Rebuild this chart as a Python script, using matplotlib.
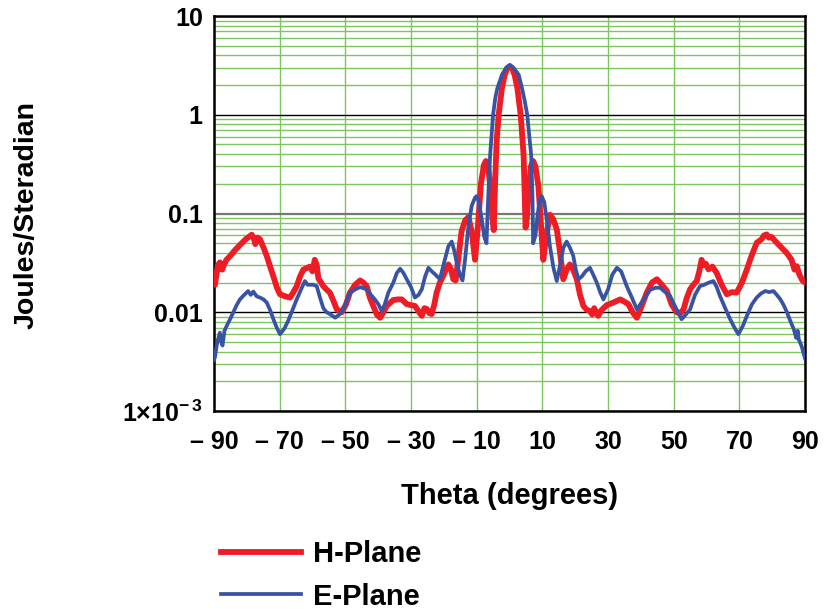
import matplotlib

matplotlib.use("Agg")

import matplotlib.pyplot as plt
from matplotlib.ticker import FixedLocator, LogLocator, NullFormatter

# H-plane radiation pattern (theta in degrees, intensity in J/sr)
theta_h = [
    -90.0, -89.7, -88.8, -88.2, -87.5, -87.0, -86.2, -85.1, -83.5, -82.1,
    -80.3, -78.5, -77.8, -77.4, -76.8, -76.0, -74.9, -73.9, -72.9, -71.9,
    -70.9, -69.9, -68.3, -66.8, -65.8, -64.8, -63.8, -62.8, -61.8, -60.8,
    -60.0, -59.3, -58.7, -58.2, -57.4, -56.7, -55.7, -54.7, -53.6, -52.6,
    -51.1, -49.8, -48.6, -47.0, -45.5, -44.5, -43.5, -42.5, -41.5, -40.4,
    -39.4, -38.4, -37.4, -35.4, -34.0, -32.8, -31.3, -30.0, -28.8, -27.5,
    -26.7, -25.9, -25.2, -24.4, -23.7, -22.9, -22.2, -21.2, -20.2, -19.2,
    -18.6, -17.8, -17.1, -16.4, -15.6, -14.6, -13.5, -12.5, -11.5, -10.5,
    -9.6, -8.7, -7.8, -7.2, -6.5, -5.8, -5.2, -4.8, -4.4, -3.9,
    -3.3, -2.3, -1.5, -0.7, 0.1, 0.9, 1.6, 2.4, 3.4, 3.9,
    4.3, 4.7, 4.9, 5.3, 5.9, 6.5, 7.2, 7.9, 8.8, 9.6,
    10.3, 11.2, 12.3, 13.3, 14.4, 15.2, 16.4, 17.4, 18.4, 19.4,
    20.5, 21.5, 22.5, 23.5, 24.5, 25.2, 25.8, 27.0, 28.0, 29.6,
    31.5, 33.7, 35.0, 36.2, 37.5, 38.8, 40.0, 41.8, 43.4, 44.9,
    46.4, 47.9, 49.4, 50.9, 52.0, 53.0, 54.0, 55.0, 56.0, 57.0,
    57.8, 58.5, 59.2, 59.8, 60.6, 61.8, 63.1, 64.6, 66.2, 67.7,
    69.2, 70.8, 72.3, 73.8, 75.3, 76.8, 77.5, 78.3, 79.0, 79.8,
    81.4, 82.9, 84.4, 85.9, 86.8, 87.5, 88.3, 89.2, 90.0,
]
h_plane = [
    0.020, 0.019, 0.030, 0.032, 0.027, 0.030, 0.034, 0.037, 0.043, 0.048,
    0.055, 0.061, 0.055, 0.049, 0.057, 0.055, 0.045, 0.037, 0.029, 0.023,
    0.018, 0.0152, 0.0145, 0.0141, 0.016, 0.0184, 0.023, 0.027, 0.028, 0.029,
    0.026, 0.034, 0.030, 0.022, 0.020, 0.0184, 0.017, 0.0158, 0.013, 0.0107,
    0.0100, 0.012, 0.0158, 0.019, 0.021, 0.020, 0.0184, 0.014, 0.0116, 0.0095,
    0.0088, 0.010, 0.0116, 0.0133, 0.0135, 0.0135, 0.0121, 0.0118, 0.0116, 0.0100,
    0.0092, 0.0110, 0.0108, 0.0098, 0.0096, 0.012, 0.0158, 0.020, 0.0233, 0.028,
    0.0305, 0.027, 0.0216, 0.021, 0.035, 0.066, 0.085, 0.092, 0.065, 0.034,
    0.075, 0.20, 0.31, 0.34, 0.30, 0.18, 0.09, 0.068, 0.20, 0.55,
    1.0, 1.86, 2.5, 2.95, 3.1, 2.9, 2.5, 1.86, 1.0, 0.6,
    0.39, 0.12, 0.072, 0.09, 0.18, 0.30, 0.34, 0.30, 0.19, 0.075,
    0.034, 0.060, 0.097, 0.088, 0.069, 0.045, 0.0216, 0.027, 0.0305, 0.027,
    0.0216, 0.015, 0.0116, 0.0106, 0.0103, 0.0095, 0.0110, 0.0092, 0.0105, 0.0118,
    0.0125, 0.0135, 0.0128, 0.0121, 0.010, 0.0088, 0.011, 0.0158, 0.020, 0.0216,
    0.019, 0.0165, 0.012, 0.0100, 0.0098, 0.0107, 0.014, 0.0171, 0.019, 0.0207,
    0.026, 0.034, 0.030, 0.031, 0.0272, 0.029, 0.025, 0.019, 0.0152, 0.016,
    0.0158, 0.020, 0.0272, 0.038, 0.0506, 0.055, 0.060, 0.0614, 0.057, 0.058,
    0.0506, 0.045, 0.040, 0.034, 0.027, 0.0293, 0.024, 0.021, 0.020,
]

# E-plane radiation pattern
theta_e = [
    -90.0, -89.7, -89.0, -88.2, -87.8, -87.4, -86.8, -86.1, -85.1, -84.1,
    -83.1, -82.1, -80.8, -79.6, -78.8, -78.0, -77.0, -76.0, -74.9, -73.9,
    -72.9, -71.9, -70.9, -69.9, -68.6, -67.4, -66.1, -64.8, -63.5, -62.3,
    -61.5, -60.8, -59.8, -58.7, -57.7, -56.7, -55.7, -54.7, -53.9, -53.1,
    -51.8, -50.6, -49.6, -48.6, -47.0, -45.5, -44.5, -43.5, -42.2, -41.0,
    -39.9, -38.9, -38.0, -36.9, -35.4, -34.3, -33.3, -32.3, -31.3, -30.0,
    -28.8, -27.7, -26.7, -25.7, -24.7, -23.7, -22.7, -21.2, -19.9, -18.6,
    -17.6, -16.9, -16.1, -15.1, -14.3, -13.5, -12.5, -11.5, -10.5, -10.0,
    -9.3, -8.5, -7.7, -7.0, -6.6, -5.9, -5.0, -4.3, -3.7, -2.3,
    -1.0, 0.1, 1.2, 2.8, 3.8, 4.6, 5.4, 6.6, 7.0, 7.2,
    7.9, 8.6, 9.3, 9.8, 10.6, 11.5, 12.3, 13.4, 14.4, 15.4,
    16.4, 17.4, 18.4, 19.4, 20.2, 21.0, 22.0, 23.2, 24.5, 25.5,
    26.6, 27.6, 28.6, 30.0, 31.3, 32.7, 34.0, 35.7, 37.3, 38.8,
    40.5, 42.8, 44.4, 45.9, 47.4, 48.9, 50.7, 52.4, 53.7, 55.0,
    56.5, 58.0, 59.3, 60.6, 62.1, 63.1, 64.1, 65.7, 67.2, 68.5,
    69.7, 71.0, 72.3, 73.8, 75.3, 76.6, 77.9, 79.1, 80.4, 81.4,
    82.5, 83.5, 84.5, 85.5, 86.6, 87.3, 87.8, 88.1, 89.0, 90.0,
]
e_plane = [
    0.0033, 0.0035, 0.0050, 0.0062, 0.0050, 0.0046, 0.0065, 0.0073, 0.0085, 0.0100,
    0.0118, 0.0135, 0.0150, 0.0164, 0.0150, 0.0162, 0.0145, 0.0141, 0.0135, 0.0125,
    0.0105, 0.0085, 0.0070, 0.0060, 0.0068, 0.0082, 0.0105, 0.0135, 0.017, 0.0207,
    0.019, 0.0190, 0.0190, 0.0184, 0.014, 0.0110, 0.0100, 0.0096, 0.0092, 0.0088,
    0.0095, 0.0107, 0.013, 0.0158, 0.0170, 0.0180, 0.0175, 0.0171, 0.015, 0.0135,
    0.012, 0.0103, 0.012, 0.0158, 0.0199, 0.025, 0.0276, 0.025, 0.0216, 0.018,
    0.0141, 0.015, 0.0171, 0.023, 0.0282, 0.026, 0.0243, 0.0216, 0.032, 0.0468,
    0.052, 0.043, 0.032, 0.024, 0.021, 0.035, 0.075, 0.12, 0.145, 0.15,
    0.13, 0.09, 0.058, 0.050, 0.12, 0.39, 1.0, 1.5, 1.86, 2.54,
    3.0, 3.2, 3.0, 2.54, 1.86, 1.4, 1.0, 0.39, 0.15, 0.050,
    0.06, 0.10, 0.14, 0.15, 0.13, 0.08, 0.047, 0.028, 0.0207, 0.030,
    0.045, 0.052, 0.045, 0.0375, 0.027, 0.0216, 0.023, 0.026, 0.0282, 0.024,
    0.0199, 0.016, 0.0135, 0.017, 0.024, 0.0282, 0.026, 0.0184, 0.014, 0.0107,
    0.013, 0.0168, 0.0177, 0.0177, 0.016, 0.0146, 0.011, 0.0085, 0.0095, 0.0107,
    0.015, 0.0184, 0.019, 0.0199, 0.0207, 0.018, 0.0146, 0.011, 0.0085, 0.0070,
    0.0060, 0.0072, 0.0092, 0.012, 0.0141, 0.0155, 0.0164, 0.0160, 0.0164, 0.0150,
    0.0135, 0.0118, 0.0100, 0.0082, 0.0067, 0.0055, 0.0065, 0.0053, 0.0045, 0.0034,
]

x_ticks = [-90, -70, -50, -30, -10, 10, 30, 50, 70, 90]
x_tick_labels = ["\u2013 90", "\u2013 70", "\u2013 50", "\u2013 30", "\u2013 10",
                 "10", "30", "50", "70", "90"]
y_ticks = [1e-3, 1e-2, 1e-1, 1, 10]
y_tick_labels = [r"$\mathbf{1{\times}10^{-\,3}}$", "0.01", "0.1", "1", "10"]

plt.rcParams["font.family"] = ["Liberation Sans", "DejaVu Sans"]
plt.rcParams["font.weight"] = "bold"
plt.rcParams["mathtext.fontset"] = "custom"
plt.rcParams["mathtext.rm"] = "Liberation Sans"
plt.rcParams["mathtext.bf"] = "Liberation Sans:bold"

fig = plt.figure(figsize=(8.3, 6.09), dpi=100)
ax = fig.add_axes([0.2578, 0.3251, 0.7121, 0.6486])

ax.plot(theta_h, h_plane, color="#ee1c25", lw=4.2, solid_joinstyle="round",
        label="H-Plane", zorder=3)
ax.plot(theta_e, e_plane, color="#3953a4", lw=2.7, solid_joinstyle="round",
        label="E-Plane", zorder=4)

ax.set_yscale("log")
ax.set_xlim(-90, 90)
ax.set_ylim(1e-3, 10)

ax.xaxis.set_major_locator(FixedLocator(x_ticks))
ax.set_xticklabels(x_tick_labels)
ax.yaxis.set_major_locator(FixedLocator(y_ticks))
ax.set_yticklabels(y_tick_labels)
ax.yaxis.set_minor_locator(LogLocator(base=10, subs=range(2, 10)))
ax.yaxis.set_minor_formatter(NullFormatter())

ax.tick_params(axis="both", which="both", length=0, labelsize=18)
ax.tick_params(axis="x", pad=14)
ax.tick_params(axis="y", pad=8)

# green grid, darker lines on the decades
ax.grid(True, axis="x", which="major", color="#7cc660", lw=1.0)
ax.grid(True, axis="y", which="minor", color="#7cc660", lw=1.0)
ax.grid(True, axis="y", which="major", color="black", lw=1.0)
for val, gl in zip(y_ticks, ax.get_ygridlines()):
    if val == 0.1:
        gl.set_color("#777777")
        gl.set_linewidth(1.6)
ax.set_axisbelow(True)

for sp in ax.spines.values():
    sp.set_linewidth(1.8)
    sp.set_color("black")

ax.set_xlabel("Theta (degrees)", fontsize=21, fontweight="bold", labelpad=20)
fig.text(0.0325, 0.647, "Joules/Steradian", rotation=90, fontsize=20.5,
         fontweight="bold", ha="center", va="center")

fig.legend(loc="upper left", bbox_to_anchor=(221 / 830, 1 - 540 / 609),
           frameon=False, fontsize=21, handlelength=2.75, handletextpad=0.4,
           labelspacing=0.5, borderpad=0, borderaxespad=0)

fig.savefig("out.png", dpi=100)
plt.close(fig)
